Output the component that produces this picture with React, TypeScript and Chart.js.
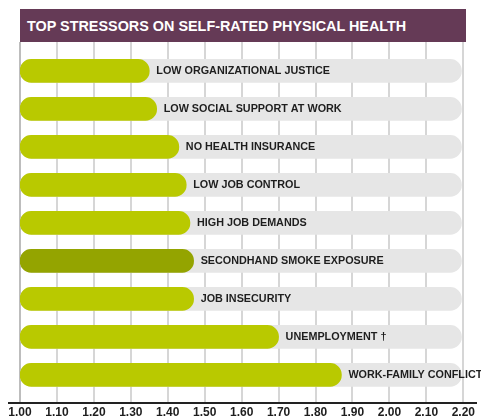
import React, { useEffect, useRef } from "react";
import { Chart, registerables } from "chart.js";

Chart.register(...registerables);

const title = "TOP STRESSORS ON SELF-RATED PHYSICAL HEALTH";
const categories = [
  "LOW ORGANIZATIONAL JUSTICE",
  "LOW SOCIAL SUPPORT AT WORK",
  "NO HEALTH INSURANCE",
  "LOW JOB CONTROL",
  "HIGH JOB DEMANDS",
  "SECONDHAND SMOKE EXPOSURE",
  "JOB INSECURITY",
  "UNEMPLOYMENT \u2020",
  "WORK-FAMILY CONFLICT",
];
const values = [1.35, 1.37, 1.43, 1.45, 1.46, 1.47, 1.47, 1.7, 1.87];
const highlighted = [false, false, false, false, false, true, false, false, false];
const axisMin = 1.0;
const axisMax = 2.2;
const axisStep = 0.1;
const trackEnd = 2.195;

const GREEN = "#b9c900";
const DARK_GREEN = "#94a400";
const TRACK = "#e6e6e6";

const overlayPlugin = {
  id: "overlay",
  beforeDatasetsDraw(chart: any) {
    const ctx = chart.ctx;
    const area = chart.chartArea;
    const xs = chart.scales.x;
    ctx.save();
    xs.ticks.forEach((t: any, i: number) => {
      const raw = xs.getPixelForValue(t.value);
      ctx.lineWidth = i === 0 ? 2 : 1.5;
      ctx.strokeStyle = i === 0 ? "#bdbdbd" : "#c9c9c9";
      const px = Math.round(raw);
      ctx.beginPath();
      ctx.moveTo(px, area.top);
      ctx.lineTo(px, area.bottom);
      ctx.stroke();
    });
    ctx.restore();
  },
  afterDatasetsDraw(chart: any) {
    const ctx = chart.ctx;
    const meta = chart.getDatasetMeta(1);
    ctx.save();
    ctx.font = 'bold 10.8px "Liberation Sans", Arial, sans-serif';
    ctx.fillStyle = "#1e1e1e";
    ctx.textBaseline = "middle";
    ctx.textAlign = "left";
    meta.data.forEach((bar: any, i: number) => {
      ctx.fillText(categories[i], bar.x + 7, bar.y + 0.5);
    });
    const area = chart.chartArea;
    ctx.strokeStyle = "#222";
    ctx.lineWidth = 2;
    ctx.beginPath();
    ctx.moveTo(8, Math.round(area.bottom));
    ctx.lineTo(477, Math.round(area.bottom));
    ctx.stroke();
    ctx.restore();
  },
};

export default function App() {
  const ref = useRef<HTMLCanvasElement | null>(null);

  useEffect(() => {
    if (!ref.current) return;
    const chart = new Chart(ref.current, {
      type: "bar",
      data: {
        datasets: [
          {
            data: categories.map((_, i) => ({ x: trackEnd, y: i })),
            backgroundColor: TRACK,
            base: axisMin,
            barThickness: 23,
            borderRadius: 12,
            borderSkipped: false,
            grouped: false,
            order: 2,
          } as any,
          {
            data: values.map((v, i) => ({ x: v, y: i })),
            backgroundColor: highlighted.map((h) => (h ? DARK_GREEN : GREEN)),
            base: axisMin,
            barThickness: 23,
            borderRadius: 12,
            borderSkipped: false,
            grouped: false,
            order: 1,
          } as any,
        ],
      },
      options: {
        indexAxis: "y",
        animation: false,
        responsive: false,
        maintainAspectRatio: false,
        devicePixelRatio: 1,
        layout: { padding: { left: 20, right: 17, top: 42, bottom: 0 } },
        plugins: {
          legend: { display: false },
          tooltip: { enabled: false },
          title: { display: false },
        },
        scales: {
          x: {
            type: "linear",
            min: axisMin,
            max: axisMax,
            border: { display: false },
            grid: { display: false, drawTicks: false },
            afterFit: (scale: any) => {
              scale.height = 14;
            },
            ticks: {
              stepSize: axisStep,
              padding: 6,
              color: "#1e1e1e",
              font: {
                family: '"Liberation Sans", Arial, sans-serif',
                size: 12,
                weight: "bold",
                lineHeight: 0.68,
              },
              callback: (v: any) => Number(v).toFixed(2),
              maxRotation: 0,
              autoSkip: false,
            },
          },
          y: {
            type: "linear",
            display: false,
            offset: false,
            min: -0.76,
            max: 8.74,
            reverse: true,
            grid: { display: false },
          },
        },
      } as any,
      plugins: [overlayPlugin],
    });
    return () => chart.destroy();
  }, []);

  return (
    <div style={{ position: "absolute", left: 0, top: 0, width: 481, height: 417, background: "#fff" }}>
      <canvas ref={ref} width={481} height={417} style={{ position: "absolute", left: 0, top: 0 }} />
      <div
        style={{
          position: "absolute",
          left: 20,
          top: 9,
          width: 439,
          height: 33,
          paddingLeft: 7,
          background: "#653a56",
          color: "#fff",
          fontFamily: '"Liberation Sans", Arial, sans-serif',
          fontWeight: "bold",
          fontSize: 14.4,
          lineHeight: "34px",
          whiteSpace: "nowrap",
        }}
      >
        {title}
      </div>
    </div>
  );
}
